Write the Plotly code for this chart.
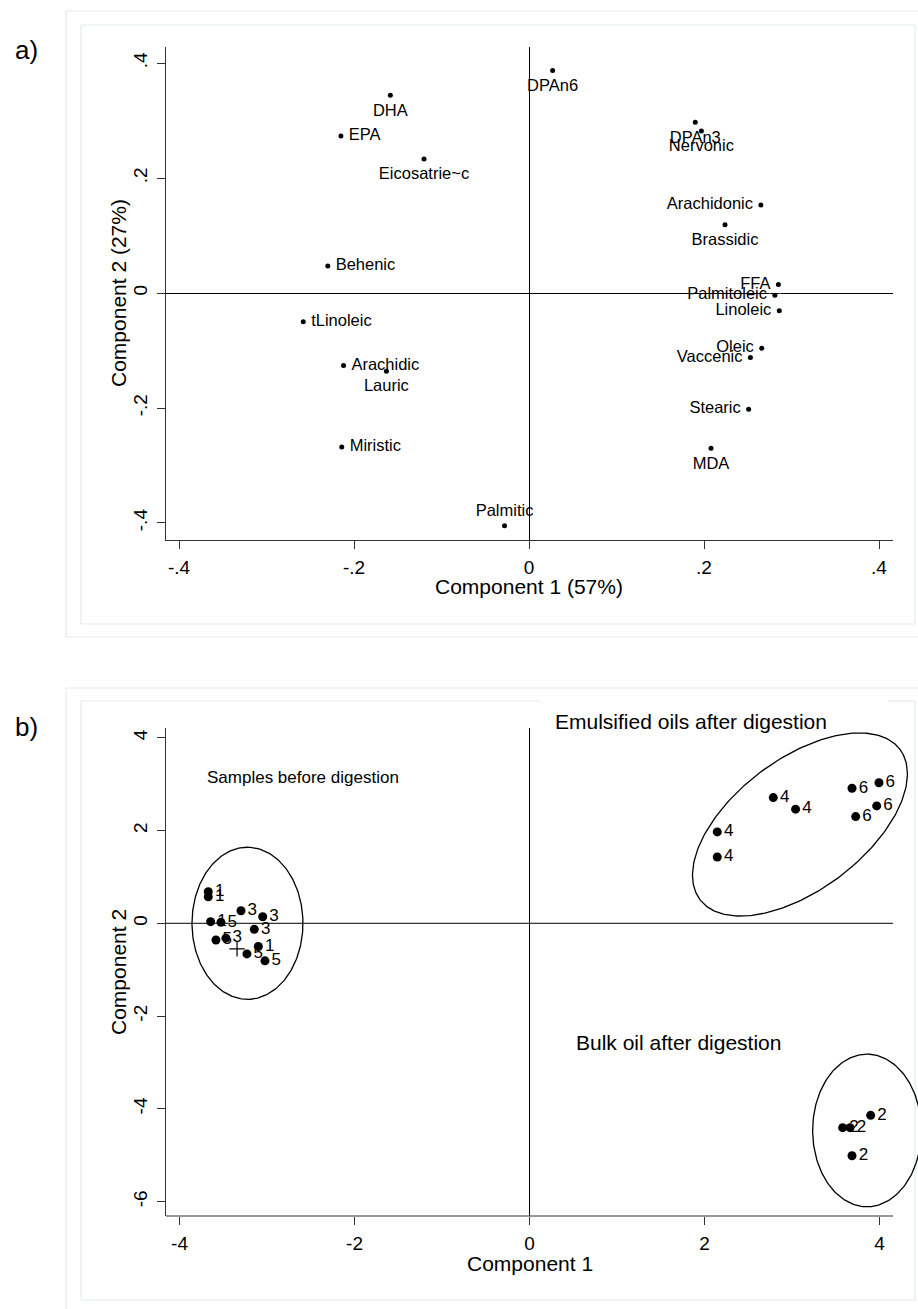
import numpy as np
import plotly.graph_objects as go

# ---------------- panel a: variable loadings ----------------
acid_names = ["DPAn6", "DHA", "EPA", "Eicosatrie~c", "DPAn3", "Nervonic",
              "Arachidonic", "Brassidic", "FFA", "Palmitoleic", "Linoleic",
              "Oleic", "Vaccenic", "Stearic", "MDA", "Behenic", "tLinoleic",
              "Arachidic", "Lauric", "Miristic", "Palmitic"]
load_c1 = [0.027, -0.1585, -0.215, -0.120, 0.190, 0.197,
           0.265, 0.224, 0.285, 0.281, 0.286,
           0.266, 0.253, 0.251, 0.208, -0.230, -0.258,
           -0.212, -0.163, -0.214, -0.028]
load_c2 = [0.387, 0.344, 0.273, 0.233, 0.297, 0.282,
           0.153, 0.119, 0.015, -0.004, -0.031,
           -0.096, -0.112, -0.202, -0.270, 0.047, -0.050,
           -0.126, -0.136, -0.268, -0.405]
label_side = ["below", "below", "right", "below", "below", "below",
              "left", "below", "left", "left", "left",
              "left", "left", "left", "below", "right", "right",
              "right", "below", "right", "above"]

ticks_a = [-0.4, -0.2, 0, 0.2, 0.4]
ticktext_a = ["-.4", "-.2", "0", ".2", ".4"]

# ---------------- panel b: sample scores ----------------
sample_group = ["1", "1", "1", "1",
                "3", "3", "3", "3",
                "5", "5", "5", "5",
                "4", "4", "4", "4",
                "6", "6", "6", "6",
                "2", "2", "2", "2"]
score_c1 = [-3.672, -3.672, -3.645, -3.10,
            -3.298, -3.05, -3.146, -3.47,
            -3.527, -3.584, -3.23, -3.024,
            2.145, 2.145, 2.785, 3.04,
            3.685, 3.993, 3.967, 3.727,
            3.898, 3.578, 3.662, 3.685]
score_c2 = [0.68, 0.57, 0.035, -0.50,
            0.27, 0.14, -0.13, -0.32,
            0.02, -0.36, -0.66, -0.81,
            1.97, 1.43, 2.71, 2.46,
            2.91, 3.03, 2.53, 2.30,
            -4.14, -4.405, -4.405, -5.01]
extra_c1 = [-3.343]
extra_c2 = [-0.55]

ticks_b_x = [-4, -2, 0, 2, 4]
ticktext_b_x = ["-4", "-2", "0", "2", "4"]
ticks_b_y = [-6, -4, -2, 0, 2, 4]
ticktext_b_y = ["-6", "-4", "-2", "0", "2", "4"]

cluster_names = ["Samples before digestion", "Emulsified oils after digestion",
                 "Bulk oil after digestion"]
cluster_text_x = [-3.71, 0.27, 0.51]
cluster_text_y = [3.15, 4.34, -2.56]
cluster_text_size = [17, 21, 21]
# ellipse centre (data), semi-axes in x-axis units, on-screen rotation (deg)
cluster_cx = [-3.224, 3.09, 3.856]
cluster_cy = [0.0, 2.13, -4.466]
cluster_a = [0.869, 1.429, 0.872]
cluster_b = [0.634, 0.749, 0.621]
cluster_angle = [90, 36.9, 90]

# ---------------- layout geometry ----------------
W, H = 918, 1309
FONT = "Liberation Sans, Arial, sans-serif"
dom_ax = [166 / W, 893 / W]
dom_ay = [1 - 540 / H, 1 - 47 / H]
dom_bx = [166 / W, 1.0]
dom_by = [1 - 1216 / H, 1 - 728 / H]
rng_ax = [-0.4149, 0.416]
rng_ay = [-0.4296, 0.428]
rng_bx = [-4.155, 4.439]
rng_by = [-6.31, 4.21]
xend_b = 4.153

AX = "#333333"
pos_map = {"below": "bottom center", "right": "middle right",
           "left": "middle left", "above": "top center"}

fig = go.Figure()

# labels carried by a wider transparent marker for extra spacing, dots on top
fig.add_trace(go.Scatter(
    x=load_c1, y=load_c2, mode="markers+text", text=acid_names,
    textposition=[pos_map[s] for s in label_side],
    marker=dict(size=[11 if s != "above" else 8 for s in label_side],
                color="rgba(0,0,0,0)"),
    textfont=dict(family=FONT, size=16.5, color="black"),
    cliponaxis=False, xaxis="x", yaxis="y", showlegend=False, hoverinfo="skip"))
fig.add_trace(go.Scatter(
    x=load_c1, y=load_c2, mode="markers",
    marker=dict(size=5, color="black"),
    cliponaxis=False, xaxis="x", yaxis="y", showlegend=False, hoverinfo="skip"))

# ellipses around sample groups (screen-space rotation)
px_x = (dom_bx[1] - dom_bx[0]) * W / (rng_bx[1] - rng_bx[0])
px_y = (dom_by[1] - dom_by[0]) * H / (rng_by[1] - rng_by[0])
t = np.linspace(0, 2 * np.pi, 241)
for cx, cy, a, b, ang in zip(cluster_cx, cluster_cy, cluster_a, cluster_b, cluster_angle):
    th = np.radians(ang)
    u, v = a * np.cos(t), b * np.sin(t)
    X = u * np.cos(th) - v * np.sin(th)
    Y = u * np.sin(th) + v * np.cos(th)
    fig.add_trace(go.Scatter(
        x=cx + X, y=cy + Y * px_x / px_y, mode="lines",
        line=dict(color="black", width=1.3), xaxis="x2", yaxis="y2",
        showlegend=False, hoverinfo="skip"))

fig.add_trace(go.Scatter(
    x=score_c1, y=score_c2, mode="markers+text", text=sample_group,
    textposition="middle right",
    marker=dict(size=9, color="black"),
    textfont=dict(family=FONT, size=17, color="black"),
    cliponaxis=False, xaxis="x2", yaxis="y2", showlegend=False, hoverinfo="skip"))

fig.add_trace(go.Scatter(
    x=extra_c1, y=extra_c2, mode="markers",
    marker=dict(symbol="cross-thin", size=11, line=dict(color="black", width=1.2)),
    xaxis="x2", yaxis="y2", showlegend=False, hoverinfo="skip"))

tickfont = dict(family=FONT, size=19, color="black")
common = dict(showgrid=False, ticks="outside", ticklen=8, tickwidth=1.2,
              tickcolor=AX, tickfont=tickfont, linecolor=AX, linewidth=1.2)

fig.update_layout(
    width=W, height=H, margin=dict(l=0, r=0, t=0, b=0),
    paper_bgcolor="white", plot_bgcolor="white",
    xaxis=dict(domain=dom_ax, range=rng_ax, anchor="y", tickvals=ticks_a,
               ticktext=ticktext_a, showline=True, zeroline=True,
               zerolinecolor="black", zerolinewidth=1, ticklabelstandoff=2, **common),
    yaxis=dict(domain=dom_ay, range=rng_ay, anchor="x", tickvals=ticks_a,
               ticktext=ticktext_a, showline=True, zeroline=True,
               zerolinecolor="black", zerolinewidth=1, tickangle=-90,
               ticklabelstandoff=2, **common),
    xaxis2=dict(domain=dom_bx, range=rng_bx, anchor="y2", tickvals=ticks_b_x,
                ticktext=ticktext_b_x, showline=False, zeroline=True,
                zerolinecolor="black", zerolinewidth=1, ticklabelstandoff=2, **common),
    yaxis2=dict(domain=dom_by, range=rng_by, anchor="x2", tickvals=ticks_b_y,
                ticktext=ticktext_b_y, showline=True, zeroline=False, tickangle=-90,
                ticklabelstandoff=2, **common),
)

shapes = []
# bottom axis line and horizontal reference line of panel b
shapes.append(dict(type="line", xref="paper", yref="paper",
                   x0=dom_bx[0], x1=893 / W, y0=dom_by[0], y1=dom_by[0],
                   line=dict(color=AX, width=1.2)))
shapes.append(dict(type="line", xref="x2", yref="y2", x0=rng_bx[0], x1=xend_b,
                   y0=0, y1=0, line=dict(color="black", width=1), layer="below"))

# light frames around each panel
FR = "#e3ebee"
def frame(x0, y0, x1, y1, gap=None):
    segs = [((x0, y1), (x1, y1)), ((x0, y0), (x0, y1)), ((x1, y0), (x1, y1))]
    if gap:
        segs += [((x0, y0), (gap[0], y0)), ((gap[1], y0), (x1, y0))]
    else:
        segs.append(((x0, y0), (x1, y0)))
    for (a0, b0), (a1, b1) in segs:
        shapes.append(dict(type="line", xref="paper", yref="paper",
                           x0=a0 / W, x1=a1 / W, y0=1 - b0 / H, y1=1 - b1 / H,
                           line=dict(color=FR, width=1.2), layer="below"))

frame(66, 11, 921, 637)
frame(81, 25, 915, 624)
frame(66, 688, 921, 1312)
frame(81, 701, 915, 1300, gap=(540, 888))
fig.update_layout(shapes=shapes)

ann = []
def paper_text(txt, x, y, size, angle=0):
    ann.append(dict(text=txt, x=x / W, y=1 - y / H, xref="paper", yref="paper",
                    showarrow=False, xanchor="center", yanchor="middle",
                    textangle=angle, font=dict(family=FONT, size=size, color="black")))

paper_text("a)", 26, 50, 26)
paper_text("b)", 26, 727, 26)
paper_text("Component 1 (57%)", 529, 587, 21)
paper_text("Component 2 (27%)", 118, 293, 21, -90)
paper_text("Component 1", 529.6, 1263, 21)
paper_text("Component 2", 118, 972, 21, -90)

# group captions, placed in panel-b coordinates (paper y so text above the axis top shows)
for name, tx, ty, fs in zip(cluster_names, cluster_text_x, cluster_text_y, cluster_text_size):
    yp = dom_by[0] + (ty - rng_by[0]) / (rng_by[1] - rng_by[0]) * (dom_by[1] - dom_by[0])
    ann.append(dict(text=name, x=tx, y=yp, xref="x2", yref="paper", showarrow=False,
                    xanchor="left", yanchor="middle",
                    font=dict(family=FONT, size=fs, color="black")))

fig.update_layout(annotations=ann)
fig.write_html("out.html")
